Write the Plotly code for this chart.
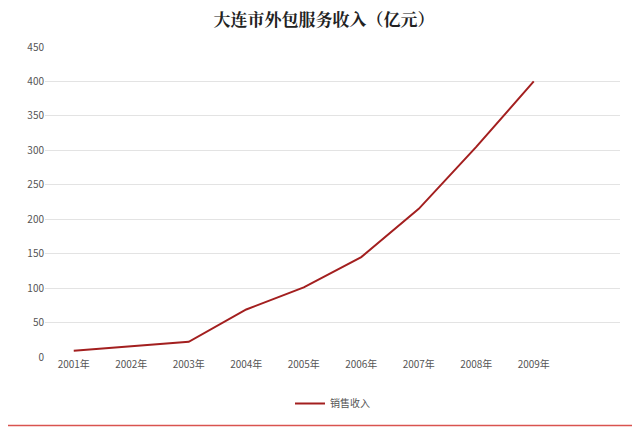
import plotly.graph_objects as go

years = ["2001年", "2002年", "2003年", "2004年", "2005年", "2006年", "2007年", "2008年", "2009年"]
revenue = [9, 15, 22, 69, 101, 145, 215, 305, 400]
y_ticks = [0, 50, 100, 150, 200, 250, 300, 350, 400, 450]

# page has ~8px body margin, so draw a slightly smaller figure
OFF = 8
W, H = 640 - OFF, 430 - OFF
L, R, T, B = 45 - OFF, 20, 47 - OFF, 71
pw, ph = W - L - R, H - T - B

fig = go.Figure()
fig.add_trace(go.Scatter(
    x=list(range(len(years))), y=revenue, mode="lines", name="销售收入",
    line=dict(color="#a31f1f", width=2),
))

fig.update_layout(
    width=W, height=H,
    margin=dict(l=L, r=R, t=T, b=B),
    paper_bgcolor="white", plot_bgcolor="white",
    title=dict(text="<b>大连市外包服务收入（亿元）</b>", x=0.5, y=(H - 12) / H,
               xanchor="center", yanchor="middle",
               font=dict(family="Noto Serif CJK SC, Noto Sans CJK SC, serif", size=17, color="#222")),
    font=dict(family="Noto Sans CJK SC, sans-serif", size=10, color="#555"),
    xaxis=dict(range=[-0.5, 9.5], tickvals=list(range(len(years))), ticktext=years,
               showgrid=False, zeroline=False, showline=False, ticks=""),
    yaxis=dict(range=[0, 450], tickvals=y_ticks, showgrid=True, gridcolor="#e3e3e3",
               zeroline=False, showline=False, ticks="", ticksuffix="  "),
    showlegend=True,
    legend=dict(orientation="h", x=0.5, xanchor="center", y=-0.15, yanchor="middle",
                font=dict(size=10, color="#555")),
    shapes=[dict(type="rect", xref="paper", yref="paper",
                 x0=(-6 - L) / pw, x1=(W - 2 - L) / pw,
                 y0=(H - B - (H - 2)) / ph, y1=(H - B + 6) / ph,
                 line=dict(color="#d9534f", width=1.5))],
)

fig.write_html("out.html")
